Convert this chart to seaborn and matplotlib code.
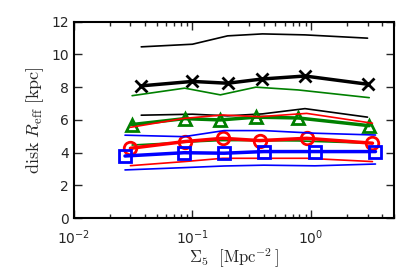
import matplotlib
matplotlib.use("Agg")
import matplotlib.pyplot as plt
import seaborn as sns

# x positions (Sigma_5 bins) for each sample
x_black = [0.037, 0.10, 0.198, 0.39, 0.89, 3.0]
x_green = [0.031, 0.086, 0.172, 0.343, 0.78, 3.1]
x_red = [0.030, 0.086, 0.180, 0.37, 0.92, 3.3]
x_blue = [0.027, 0.085, 0.185, 0.40, 1.08, 3.5]

# black: median and upper/lower quartiles
black_med = [8.08, 8.35, 8.24, 8.50, 8.68, 8.18]
black_hi = [10.46, 10.62, 11.13, 11.25, 11.19, 10.99]
black_lo = [6.29, 6.35, 6.25, 6.37, 6.69, 6.17]

# green
green_med = [5.72, 6.08, 6.0, 6.17, 6.12, 5.65]
green_hi = [7.48, 7.94, 7.53, 8.0, 7.83, 7.36]
green_lo = [4.47, 4.64, 4.74, 4.74, 4.72, 4.58]

# red
red_med = [4.27, 4.68, 4.88, 4.74, 4.88, 4.58]
red_hi = [5.55, 6.1, 6.3, 6.2, 6.4, 5.8]
red_lo = [3.21, 3.46, 3.66, 3.66, 3.66, 3.46]

# blue
blue_med = [3.8, 4.0, 3.97, 4.07, 4.07, 4.07]
blue_hi = [5.07, 4.98, 5.35, 5.35, 5.19, 5.08]
blue_lo = [2.95, 3.09, 3.19, 3.24, 3.2, 3.31]

sns.set_style("ticks")
plt.rcParams['mathtext.fontset'] = 'cm'
plt.rcParams['font.family'] = ['DejaVu Sans']

fig = plt.figure(figsize=(4.15, 2.77), dpi=100)
ax = fig.add_axes([0.178, 0.212, 0.771, 0.71])

samples = [
    (x_black, black_med, black_hi, black_lo, 'k', 'x'),
    (x_green, green_med, green_hi, green_lo, 'green', '^'),
    (x_red, red_med, red_hi, red_lo, 'red', 'o'),
    (x_blue, blue_med, blue_hi, blue_lo, 'blue', 's'),
]

for xs, med, hi, lo, col, mk in samples:
    sns.lineplot(x=xs, y=hi, ax=ax, color=col, lw=1.2, sort=False)
    sns.lineplot(x=xs, y=lo, ax=ax, color=col, lw=1.2, sort=False)
    sns.lineplot(x=xs, y=med, ax=ax, color=col, lw=2.5, sort=False,
                 marker=mk, ms=9, mew=2, mfc='none', mec=col)

ax.set_xscale('log')
ax.set_xlim(0.01, 5)
ax.set_ylim(0, 12)
ax.set_yticks([0, 2, 4, 6, 8, 10, 12])
ax.tick_params(which='both', direction='in', top=True, right=True,
               labelsize=10, width=1)
ax.tick_params(which='major', length=6)
ax.tick_params(which='minor', length=3)
ax.tick_params(axis='x', which='major', pad=7)
for sp in ax.spines.values():
    sp.set_linewidth(1.5)
    sp.set_color('k')

ax.set_xlabel(r'$\Sigma_5\ \ [\mathrm{Mpc}^{-2}\,]$', fontsize=12, labelpad=0)
ax.set_ylabel(r'$\mathrm{disk}\ R_{\rm eff}\ [\mathrm{kpc}]$', fontsize=13)

fig.savefig('out.png', dpi=100)
